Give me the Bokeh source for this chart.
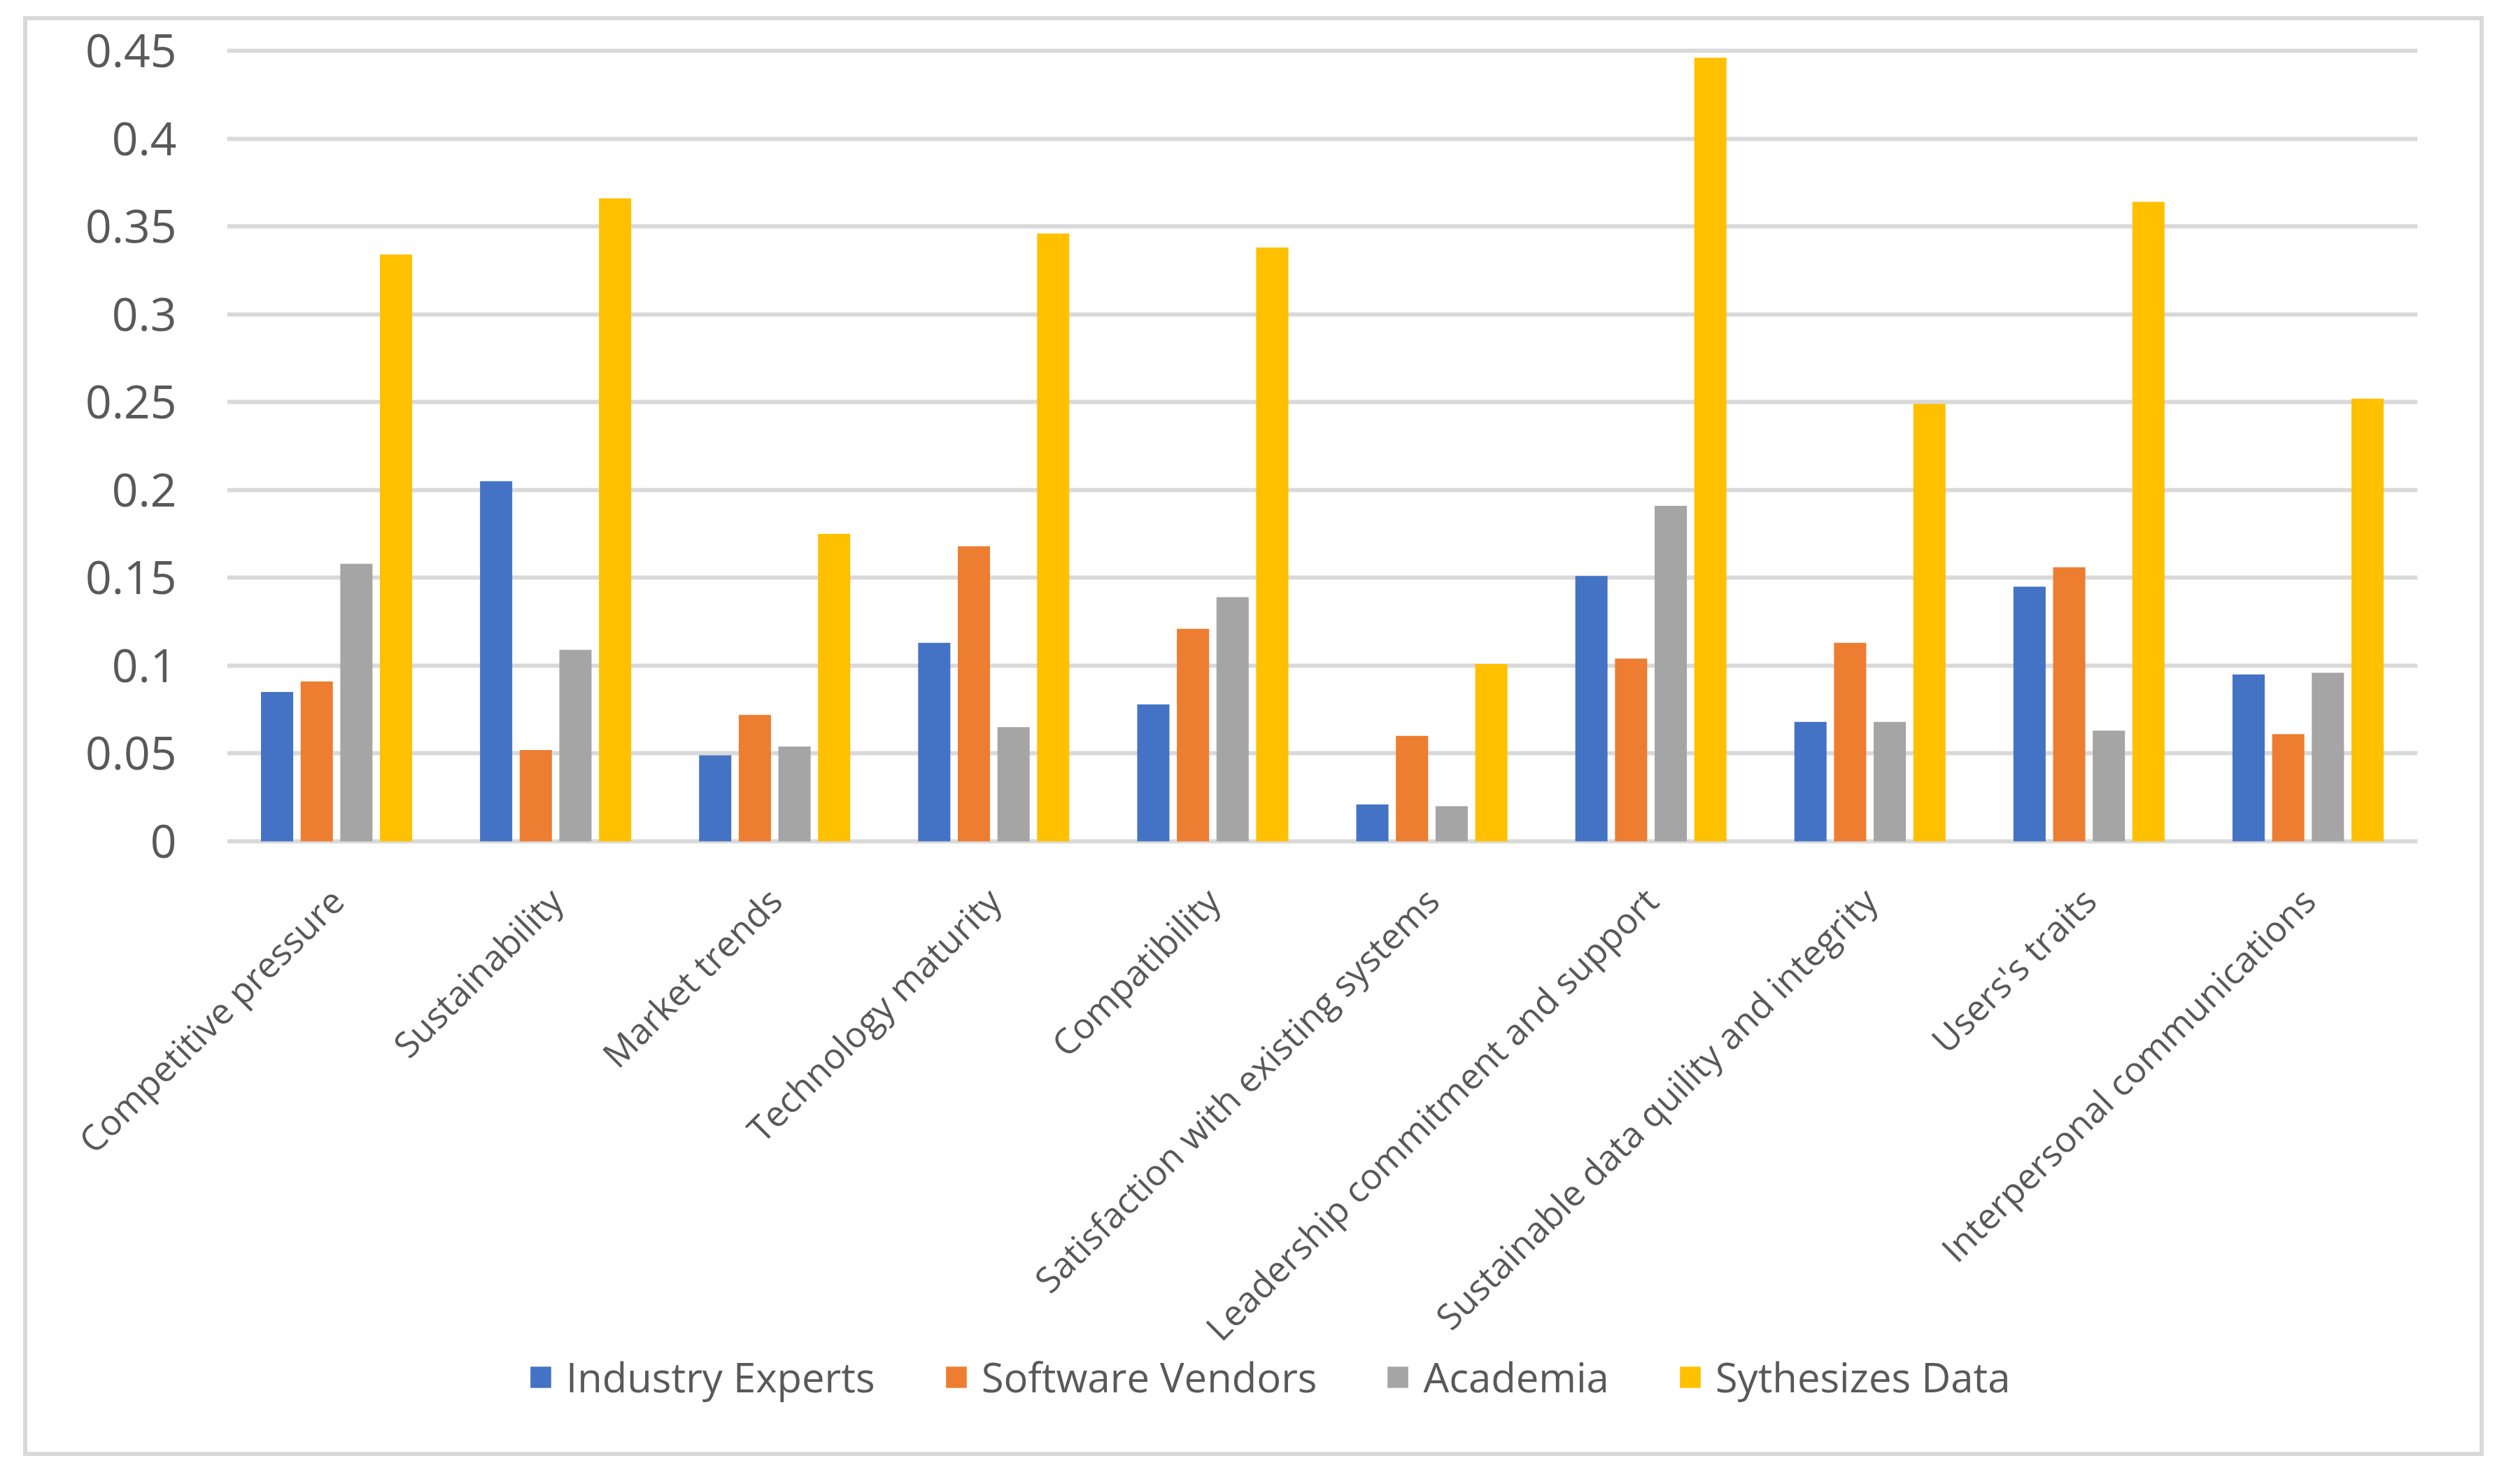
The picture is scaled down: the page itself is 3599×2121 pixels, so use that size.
import math
from bokeh.plotting import figure
from bokeh.layouts import column
from bokeh.models import (ColumnDataSource, FactorRange, Range1d, FixedTicker,
                          Legend, LegendItem)
from bokeh.transform import dodge
from bokeh.embed import file_html
from bokeh.resources import INLINE

# ---- data ----
categories = [
    "Competitive pressure", "Sustainability", "Market trends",
    "Technology maturity", "Compatibility", "Satisfaction with existing systems",
    "Leadership commitment and support", "Sustainable data quility and integrity",
    "Users's traits", "Interpersonal communications",
]
series_names = ["Industry Experts", "Software Vendors", "Academia", "Sythesizes Data"]
industry_experts = [0.085, 0.205, 0.049, 0.113, 0.078, 0.021, 0.151, 0.068, 0.145, 0.095]
software_vendors = [0.091, 0.052, 0.072, 0.168, 0.121, 0.060, 0.104, 0.113, 0.156, 0.061]
academia = [0.158, 0.109, 0.054, 0.065, 0.139, 0.020, 0.191, 0.068, 0.063, 0.096]
sythesizes_data = [0.334, 0.366, 0.175, 0.346, 0.338, 0.101, 0.446, 0.249, 0.364, 0.252]
y_ticks = [0, 0.05, 0.1, 0.15, 0.2, 0.25, 0.3, 0.35, 0.4, 0.45]
y_tick_labels = ["0", "0.05", "0.1", "0.15", "0.2", "0.25", "0.3", "0.35", "0.4", "0.45"]

colors = ["#4472C4", "#ED7D31", "#A5A5A5", "#FFC000"]
offsets = [-0.2715, -0.0905, 0.0905, 0.2715]
keys = ["s0", "s1", "s2", "s3"]

src = ColumnDataSource(dict(cat=categories, s0=industry_experts, s1=software_vendors,
                            s2=academia, s3=sythesizes_data))

W, H = 3583, 2105
HM = 1962
LEG_TOP = 1913            # top of the legend strip, in figure pixels
LEG_SHIFT = LEG_TOP - HM  # negative margin: the strip overlaps the empty bottom of the chart
HL = H - HM - LEG_SHIFT
FRAME_L, FRAME_R, FRAME_T, FRAME_B = 324, 3455, 62, 1212
ppu = (1202 - 72) / 0.45
y_end = 0.45 + (72 - FRAME_T) / ppu
y_start = -(FRAME_B - 1202) / ppu

p = figure(width=W, height=HM, output_backend="svg", toolbar_location=None,
           x_range=FactorRange(factors=categories, range_padding=0),
           y_range=Range1d(y_start, y_end),
           min_border_left=FRAME_L, min_border_right=W - FRAME_R,
           min_border_top=FRAME_T, min_border_bottom=HM - FRAME_B)
p.outline_line_color = None
p.background_fill_color = "white"
p.border_fill_alpha = 0

for k, off, c in zip(keys, offsets, colors):
    p.vbar(x=dodge("cat", off, range=p.x_range), top=k, bottom=0, width=0.147,
           source=src, fill_color=c, line_color=None)

# grid
p.xgrid.grid_line_color = None
p.ygrid.ticker = FixedTicker(ticks=y_ticks)
p.ygrid.grid_line_color = "#D9D9D9"
p.ygrid.grid_line_width = 6

# y axis
p.yaxis.ticker = FixedTicker(ticks=y_ticks)
p.yaxis.major_label_overrides = {t: l for t, l in zip(y_ticks, y_tick_labels)}
p.yaxis.axis_line_color = None
p.yaxis.major_tick_line_color = None
p.yaxis.minor_tick_line_color = None
p.yaxis.major_tick_out = 0
p.yaxis.major_label_standoff = 72
p.yaxis.major_label_text_font = "Open Sans"
p.yaxis.major_label_text_font_size = "66px"
p.yaxis.major_label_text_color = "#595959"

# x axis
p.xaxis.axis_line_color = None
p.xaxis.major_tick_line_color = None
p.xaxis.minor_tick_line_color = None
p.xaxis.major_tick_out = 0
p.xaxis.major_label_orientation = math.pi / 4
p.xaxis.major_label_standoff = 65
p.xaxis.major_label_text_font = "Open Sans"
p.xaxis.major_label_text_font_size = "51px"
p.xaxis.major_label_text_color = "#595959"

# ---- legend strip (its frame is aligned with the chart's frame by the column) ----
leg = figure(width=W, height=HL, output_backend="svg", toolbar_location=None,
             x_range=Range1d(2, 3), y_range=Range1d(2, 3),
             x_axis_location=None, y_axis_location=None,
             min_border_left=FRAME_L, min_border_right=W - FRAME_R,
             min_border_top=0, min_border_bottom=0,
             margin=(LEG_SHIFT, 0, 0, 0))
leg.outline_line_color = None
leg.background_fill_alpha = 0
leg.border_fill_alpha = 0
leg.xgrid.visible = False
leg.ygrid.visible = False
# proxies for the legend swatches (zero-height bars, outside this strip's ranges)
leg_renderers = [leg.vbar(x=k, top=k, bottom=k, width=0.001, source=src,
                          fill_color=c, line_color=None)
                 for k, c in zip(keys, colors)]
LEG_FONT = 58
legend = Legend(items=[LegendItem(label=n, renderers=[r]) for n, r in zip(series_names, leg_renderers)],
                orientation="horizontal", location=(430, HL - 55 - round(LEG_FONT * 0.68)),
                glyph_width=37, glyph_height=38, label_standoff=18, spacing=97,
                padding=0, margin=0, border_line_color=None, background_fill_alpha=0,
                label_text_font="Open Sans", label_text_font_size=f"{LEG_FONT}px",
                label_text_color="#595959")
leg.add_layout(legend, "center")

# chart-area border: four thin grey bands painted behind the (transparent) canvases
bx0, by0, bx1, by1, bw = 33, 23, 3550, 2081, 6
g = "linear-gradient(#D9D9D9, #D9D9D9)"
border_styles = {
    "background-image": ", ".join([g] * 4),
    "background-repeat": "no-repeat",
    "background-position": (f"{bx0}px {by0}px, {bx0}px {by1 - bw}px, "
                            f"{bx0}px {by0}px, {bx1 - bw}px {by0}px"),
    "background-size": (f"{bx1 - bx0}px {bw}px, {bx1 - bx0}px {bw}px, "
                        f"{bw}px {by1 - by0}px, {bw}px {by1 - by0}px"),
}

layout = column(p, leg, spacing=0, styles=border_styles)

open("out.html", "w").write(file_html(layout, INLINE))
